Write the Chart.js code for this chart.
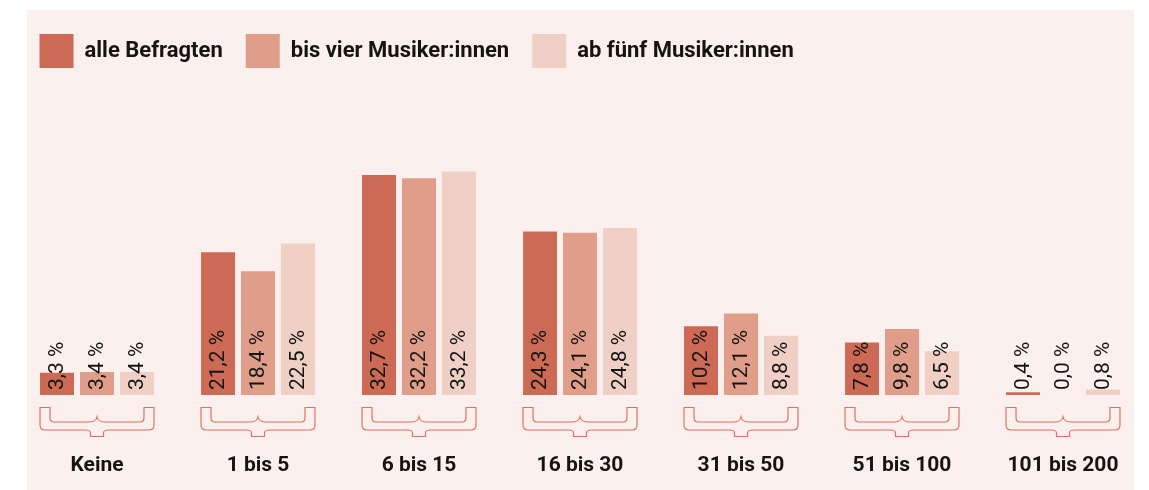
<!DOCTYPE html>
<html lang="de">
<head>
<meta charset="utf-8">
<script src="https://cdn.jsdelivr.net/npm/chart.js@4.4.1/dist/chart.umd.min.js"></script>
<style>
    html, body { margin: 0; padding: 0; background: #ffffff; }
    .wrap { position: relative; width: 1149px; height: 490px; }
    .panel { position: absolute; left: 27px; top: 10px; width: 1107px; height: 480px; background: #fbf0ee; }
    #chart { position: absolute; left: 0; top: 0; }
</style>
</head>
<body>
<div class="wrap">
    <div class="panel"></div>
    <canvas id="chart" width="1149" height="490"></canvas>
</div>
<script>
/* Anzahl Auftritte - Balkendiagramm */

const categories = ['Keine', '1 bis 5', '6 bis 15', '16 bis 30', '31 bis 50', '51 bis 100', '101 bis 200'];
const seriesNames = ['alle Befragten', 'bis vier Musiker:innen', 'ab fünf Musiker:innen'];
const alleBefragten = [3.3, 21.2, 32.7, 24.3, 10.2, 7.8, 0.4];
const bisVier = [3.4, 18.4, 32.2, 24.1, 12.1, 9.8, 0.0];
const abFuenf = [3.4, 22.5, 33.2, 24.8, 8.8, 6.5, 0.8];

const colors = ['#cd6a55', '#e09e8a', '#f0d0c5'];
const braceColor = '#dc735f';
const textColor = '#141414';

function fmtPct(v) { return v.toFixed(1).replace('.', ',') + ' %'; }

// Prozentwerte senkrecht in den Balken
const valueLabels = {
    id: 'valueLabels',
    afterDatasetsDraw(chart) {
        const ctx = chart.ctx;
        ctx.save();
        ctx.font = '400 21px Roboto';
        ctx.fillStyle = textColor;
        ctx.textAlign = 'left';
        ctx.textBaseline = 'middle';
        chart.data.datasets.forEach((ds, i) => {
            chart.getDatasetMeta(i).data.forEach((bar, j) => {
                ctx.save();
                ctx.translate(bar.x + 1, bar.base - 5);
                ctx.rotate(-Math.PI / 2);
                ctx.fillText(fmtPct(ds.data[j]), 0, 0);
                ctx.restore();
            });
        });
        ctx.restore();
    }
};

// geschweifte Klammer unter jeder Gruppe
const braces = {
    id: 'braces',
    afterDatasetsDraw(chart) {
        const ctx = chart.ctx;
        const first = chart.getDatasetMeta(0).data;
        const last = chart.getDatasetMeta(chart.data.datasets.length - 1).data;
        const top = chart.chartArea.bottom + 12.5;
        ctx.save();
        ctx.strokeStyle = braceColor;
        ctx.lineWidth = 1.2;
        first.forEach((bar, j) => {
            const x0 = bar.x - bar.width / 2;
            const x1 = last[j].x + last[j].width / 2;
            const xc = (x0 + x1) / 2;
            const yIn = top + 14.5, yOut = top + 22.5, yTip = top + 29;
            ctx.beginPath();
            ctx.moveTo(x0, top);
            ctx.lineTo(x0 + 10, top);
            ctx.lineTo(x0 + 10, yIn - 4);
            ctx.quadraticCurveTo(x0 + 10, yIn, x0 + 14, yIn);
            ctx.lineTo(xc - 8, yIn);
            ctx.quadraticCurveTo(xc - 1, yIn, xc, yIn - 5);
            ctx.quadraticCurveTo(xc + 1, yIn, xc + 8, yIn);
            ctx.lineTo(x1 - 14, yIn);
            ctx.quadraticCurveTo(x1 - 10, yIn, x1 - 10, yIn - 4);
            ctx.lineTo(x1 - 10, top);
            ctx.lineTo(x1, top);
            ctx.lineTo(x1, yOut - 5);
            ctx.quadraticCurveTo(x1, yOut, x1 - 5, yOut);
            ctx.lineTo(xc + 12, yOut);
            ctx.quadraticCurveTo(xc + 6.5, yOut, xc + 6.5, yOut + 3);
            ctx.lineTo(xc + 6.5, yTip);
            ctx.lineTo(xc - 6.5, yTip);
            ctx.lineTo(xc - 6.5, yOut + 3);
            ctx.quadraticCurveTo(xc - 6.5, yOut, xc - 12, yOut);
            ctx.lineTo(x0 + 5, yOut);
            ctx.quadraticCurveTo(x0, yOut, x0, yOut - 5);
            ctx.closePath();
            ctx.stroke();
        });
        ctx.restore();
    }
};

function initChart() {
    const canvas = document.getElementById('chart');
    new Chart(canvas, {
        type: 'bar',
        data: {
            labels: categories,
            datasets: [
                { label: seriesNames[0], data: alleBefragten, backgroundColor: colors[0] },
                { label: seriesNames[1], data: bisVier, backgroundColor: colors[1] },
                { label: seriesNames[2], data: abFuenf, backgroundColor: colors[2] }
            ]
        },
        options: {
            responsive: false,
            animation: false,
            events: [],
            categoryPercentage: 0.745,
            barPercentage: 0.85,
            layout: { padding: { left: 16.5, right: 5.5, top: 11, bottom: 0 } },
            plugins: {
                legend: {
                    align: 'start',
                    labels: {
                        boxWidth: 34,
                        boxHeight: 34,
                        padding: 23,
                        color: textColor,
                        font: { family: 'Roboto', size: 22, weight: '700' }
                    }
                },
                tooltip: { enabled: false }
            },
            scales: {
                x: {
                    grid: { display: false, drawTicks: false },
                    border: { display: false },
                    ticks: {
                        padding: 58,
                        color: textColor,
                        font: { family: 'Roboto', size: 21, weight: '700' }
                    },
                    afterFit(scale) {
                        // Platz für Klammern und Beschriftung, kein Seitenrand
                        scale.height = 95;
                        scale.paddingLeft = 0;
                        scale.paddingRight = 0;
                    }
                },
                y: {
                    display: false,
                    min: 0,
                    max: 47.1
                }
            }
        },
        plugins: [valueLabels, braces]
    });
}

document.addEventListener('DOMContentLoaded', initChart);
</script>
</body>
</html>
